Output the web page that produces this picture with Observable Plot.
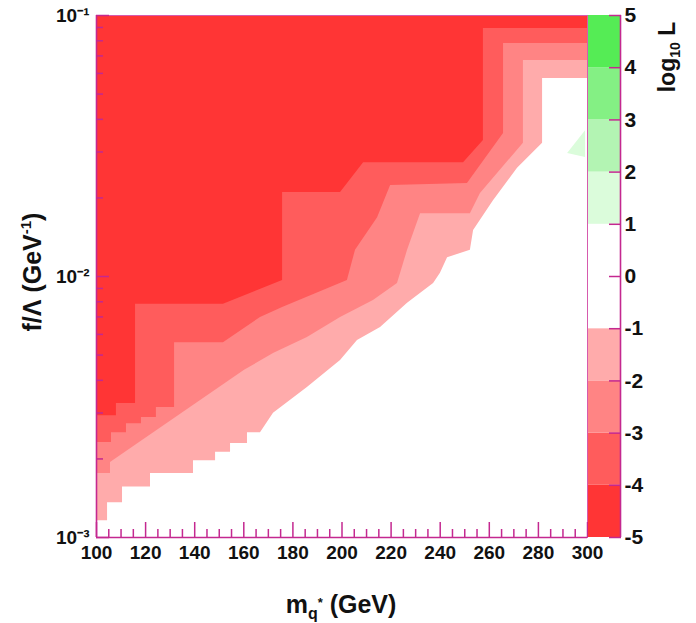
<!DOCTYPE html>
<html><head><meta charset="utf-8">
<script src="https://cdn.jsdelivr.net/npm/d3@7"></script>
<script src="https://cdn.jsdelivr.net/npm/@observablehq/plot@0.6"></script>
<style>
body{margin:0;background:#fff;}
#chart{position:relative;width:696px;height:623px;}
#chart svg{position:absolute;left:0;top:0;overflow:visible;}
</style></head><body><div id="chart"></div>
<script>
const FONT = "Liberation Sans, Arial, Helvetica, sans-serif";
const MAG = "#c42890";

// colour levels of log10 L
const levelLo = [-5, -4, -3, -2, -1, 1, 2, 3, 4];
const levelHi = [-4, -3, -2, -1, 1, 2, 3, 4, 5];
const levelColors = ["#ff3535", "#ff5c5c", "#ff8484", "#ffabab", "#ffffff", "#dbfcdb", "#b3f4b3", "#84f084", "#55ec55"];
const colorbarTicks = [-5, -4, -3, -2, -1, 0, 1, 2, 3, 4, 5];

// axes ticks
const xTicksMajor = [100, 120, 140, 160, 180, 200, 220, 240, 260, 280, 300];
const xTicksMinor = [105,110,115,125,130,135,145,150,155,165,170,175,185,190,195,205,210,215,225,230,235,245,250,255,265,270,275,285,290,295];
const yTicksMajor = [0.001, 0.01, 0.1];
const yTickLabels = ["10\u207B\u00B3", "10\u207B\u00B2", "10\u207B\u00B9"];
const yTicksMinor = [0.002,0.003,0.004,0.005,0.006,0.007,0.008,0.009,0.02,0.03,0.04,0.05,0.06,0.07,0.08,0.09];
const yTop = 0.1;

// contour boundaries (lower edge of each region, f/Lambda vs m_q*)
// log10 L <= -1 (pink)
const massPink = [100, 104.5, 104.5, 110.6, 110.6, 122.0, 122.0, 139.5, 139.5, 148.5, 148.5, 154.6, 154.6, 161.5, 161.5, 166.8, 172.1, 185.9, 199.4, 206.3, 215.7, 226.7, 237.3, 240.1, 243.0, 252.3, 253.6, 261.7, 271.5, 281.7, 281.7, 300];
const fPink = [0.00116, 0.00116, 0.00136, 0.00136, 0.00156, 0.00156, 0.00176, 0.00176, 0.00197, 0.00197, 0.00212, 0.00212, 0.00229, 0.00229, 0.00252, 0.00252, 0.00299, 0.00376, 0.00477, 0.00569, 0.00638, 0.00789, 0.0094, 0.0103, 0.0118, 0.0126, 0.0150, 0.0195, 0.0260, 0.0324, 0.0574, 0.0574];
// log10 L <= -2
const massLight = [100, 105.7, 105.7, 160.3, 172.1, 185.9, 199.4, 212.8, 222.6, 226.7, 232.0, 252.3, 256.4, 273.9, 273.9, 300];
const fLight = [0.00176, 0.00176, 0.00194, 0.00437, 0.00507, 0.00584, 0.00697, 0.00809, 0.0094, 0.0126, 0.0174, 0.0174, 0.0208, 0.0324, 0.0673, 0.0673];
// log10 L <= -3
const massMedium = [100, 106.1, 106.1, 112.2, 112.2, 118.3, 118.3, 124.4, 124.4, 131.8, 131.8, 151.7, 166.8, 175.8, 202.2, 205.5, 214.5, 219.8, 251.1, 265.8, 265.8, 300];
const fMedium = [0.00231, 0.00231, 0.00252, 0.00252, 0.00273, 0.00273, 0.00288, 0.00288, 0.00315, 0.00315, 0.00558, 0.00558, 0.00697, 0.0076, 0.00966, 0.0126, 0.0168, 0.0223, 0.0227, 0.0353, 0.0781, 0.0781];
// log10 L <= -4
const massRed = [100, 108.1, 108.1, 115.9, 115.9, 151.7, 175.8, 175.8, 199.4, 208.8, 249.5, 257.6, 257.6, 300];
const fRed = [0.00293, 0.00293, 0.00326, 0.00326, 0.00782, 0.00782, 0.00966, 0.0210, 0.0210, 0.0273, 0.0273, 0.0332, 0.0892, 0.0892];
// small region with 1 <= log10 L < 2
const massGreen = [291.9, 299.2];
const fGreenLow = [0.0296, 0.0286];
const fGreenHigh = [0.0296, 0.0362];

const toRows = (ms, fs) => ms.map((m, i) => ({m, f: fs[i]}));
const region = (ms, fs, color) => Plot.area(toRows(ms, fs), {x1: "m", y1: "f", y2: () => yTop, fill: color, curve: "linear"});

const main = Plot.plot({
  width: 696, height: 623,
  marginLeft: 96, marginRight: 109, marginTop: 15, marginBottom: 86,
  style: {fontFamily: FONT, background: "#fff", overflow: "visible"},
  x: {domain: [100, 300]},
  y: {type: "log", domain: [0.001, 0.1]},
  marks: [
    region(massPink, fPink, levelColors[3]),
    region(massLight, fLight, levelColors[2]),
    region(massMedium, fMedium, levelColors[1]),
    region(massRed, fRed, levelColors[0]),
    Plot.area(massGreen.map((m, i) => ({m, lo: fGreenLow[i], hi: fGreenHigh[i]})), {x1: "m", y1: "lo", y2: "hi", fill: levelColors[5]}),
    Plot.frame({stroke: "#d65aae", strokeWidth: 1}),
    Plot.ruleX([100], {stroke: MAG, strokeWidth: 1.6}),
    Plot.ruleY([0.001], {stroke: MAG, strokeWidth: 1.6}),
    Plot.axisX(xTicksMajor, {tickSize: -15, fill: "none", stroke: MAG, strokeWidth: 1.5, label: null}),
    Plot.axisX(xTicksMinor, {tickSize: -8, fill: "none", stroke: MAG, strokeWidth: 1.5, label: null}),
    Plot.axisX(xTicksMajor, {tickSize: 0, tickPadding: 8, fontSize: 19, fontWeight: "bold", fill: "#111", label: null, tickFormat: d => String(d)}),
    Plot.axisY(yTicksMajor, {anchor: "left", tickSize: -13, fill: "none", stroke: MAG, strokeWidth: 1.5, label: null}),
    Plot.axisY(yTicksMinor, {anchor: "left", tickSize: -7, fill: "none", stroke: MAG, strokeWidth: 1.5, label: null}),
    Plot.axisY(yTicksMajor, {anchor: "left", tickSize: 0, tickPadding: 7, fontSize: 19, fontWeight: "bold", fill: "#111", label: null,
      tickFormat: d => yTickLabels[yTicksMajor.indexOf(d)]})
  ]
});

const bar = Plot.plot({
  width: 696, height: 623,
  marginLeft: 588, marginRight: 76, marginTop: 15, marginBottom: 86,
  style: {fontFamily: FONT, background: "transparent", overflow: "visible"},
  x: {domain: [0, 1], axis: null},
  y: {domain: [-5, 5]},
  color: {type: "identity"},
  marks: [
    Plot.rect(levelLo.map((lo, i) => ({lo, hi: levelHi[i], c: levelColors[i]})), {x1: () => 0, x2: () => 1, y1: "lo", y2: "hi", fill: "c"}),
    Plot.ruleX([1], {stroke: MAG, strokeWidth: 1.6}),
    Plot.axisY(colorbarTicks, {anchor: "right", tickSize: -12, fill: "none", stroke: MAG, strokeWidth: 1.5, label: null}),
    Plot.axisY(colorbarTicks, {anchor: "right", tickSize: 0, tickPadding: 4, fontSize: 21, fontWeight: "bold", fill: "#111", label: null, tickFormat: d => String(d)})
  ]
});

const host = document.getElementById("chart");
host.appendChild(main);
host.appendChild(bar);

const svg = d3.select(main);
// x title
const xt = svg.append("text").attr("x", 341).attr("y", 613).attr("text-anchor", "middle")
  .attr("font-family", FONT).attr("font-weight", "bold").attr("font-size", 25).attr("fill", "#111");
xt.append("tspan").text("m");
xt.append("tspan").attr("font-size", 16).attr("dy", 6).text("q");
xt.append("tspan").attr("font-size", 13).attr("dy", -12).text("*");
xt.append("tspan").attr("dy", 6).text(" (GeV)");
// y title
const yt = svg.append("text").attr("transform", "translate(41,272) rotate(-90)").attr("text-anchor", "middle")
  .attr("font-family", FONT).attr("font-weight", "bold").attr("font-size", 25).attr("fill", "#111");
yt.append("tspan").text("f/\u039B (GeV");
yt.append("tspan").attr("font-size", 15).attr("dy", -10).text("-1");
yt.append("tspan").attr("dy", 10).text(")");
// colour bar title
const bsvg = d3.select(bar);
const ct = bsvg.append("text").attr("transform", "translate(675,57) rotate(-90)").attr("text-anchor", "middle")
  .attr("font-family", FONT).attr("font-weight", "bold").attr("font-size", 23).attr("fill", "#111");
ct.append("tspan").text("log");
ct.append("tspan").attr("font-size", 14).attr("dy", 5).text("10");
ct.append("tspan").attr("dy", -5).text(" L");
</script></body></html>
